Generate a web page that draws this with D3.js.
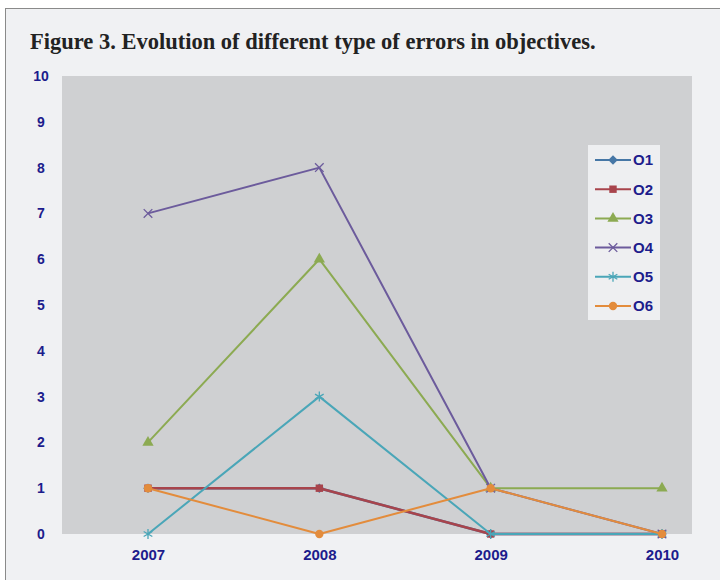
<!DOCTYPE html>
<html lang="en">
<head>
    <meta charset="UTF-8">
    <title>Figure 3</title>
    <script src="https://d3js.org/d3.v7.min.js"></script>
    <style>
        body { margin: 0; background: #fff; }
    </style>
</head>
<body>
    <svg></svg>
    <script>
        const w = 720;
        const h = 580;

        const years = ['2007', '2008', '2009', '2010'];
        const yTicks = [0, 1, 2, 3, 4, 5, 6, 7, 8, 9, 10];
        const names = ['O1', 'O2', 'O3', 'O4', 'O5', 'O6'];
        const o1 = [1, 1, 0, 0];
        const o2 = [1, 1, 0, 0];
        const o3 = [2, 6, 1, 1];
        const o4 = [7, 8, 1, 0];
        const o5 = [0, 3, 0, 0];
        const o6 = [1, 0, 1, 0];

        const colors = ['#4677a6', '#a8444c', '#8caa52', '#6c5b9c', '#4aa6b8', '#e38c3c'];
        // O1 is a square turned 45 degrees (Excel style diamond)
        const symbols = [d3.symbolSquare, d3.symbolSquare, d3.symbolTriangle, d3.symbolX, d3.symbolAsterisk, d3.symbolCircle];
        const rotations = [45, 0, 0, 0, 0, 0];
        const sizes = [45, 55, 55, 50, 70, 55];
        const stroked = [false, false, false, true, true, false];

        const series = [o1, o2, o3, o4, o5, o6].map((vals, i) => ({
            name: names[i],
            values: vals.map((v, j) => ({ year: years[j], value: v }))
        }));

        const svg = d3.select('svg')
            .attr('width', w)
            .attr('height', h);

        // outer frame
        svg.append('rect')
            .attr('x', 5.5).attr('y', 8.5)
            .attr('width', w + 10).attr('height', h + 10)
            .attr('fill', '#f0f1f3')
            .attr('stroke', '#8a8a8a');

        svg.append('text')
            .attr('x', 30).attr('y', 49)
            .attr('font-family', 'Liberation Serif, serif')
            .attr('font-weight', 'bold')
            .attr('font-size', 22.5)
            .attr('fill', '#222')
            .text('Figure 3. Evolution of different type of errors in objectives.');

        const plotL = 62, plotR = 692, plotT = 76, plotB = 534;

        const x = d3.scalePoint().domain(years).range([148, 662]);
        const y = d3.scaleLinear().domain([0, 10]).range([plotB, plotT]);

        svg.append('rect')
            .attr('x', plotL).attr('y', plotT)
            .attr('width', plotR - plotL).attr('height', plotB - plotT)
            .attr('fill', '#cfd0d2');

        const yAxis = svg.append('g')
            .attr('transform', `translate(${plotL}, 0)`)
            .call(d3.axisLeft(y).tickValues(yTicks).tickSize(0).tickFormat(d3.format('d')));
        yAxis.select('.domain').remove();
        yAxis.selectAll('text')
            .attr('x', -21)
            .attr('text-anchor', 'middle')
            .attr('font-family', 'Liberation Sans, Arial, sans-serif')
            .attr('font-weight', 'bold')
            .attr('font-size', 14)
            .attr('fill', '#1c1c8c');

        const xAxis = svg.append('g')
            .attr('transform', `translate(0, ${plotB})`)
            .call(d3.axisBottom(x).tickSize(0).tickPadding(15));
        xAxis.select('.domain').remove();
        xAxis.selectAll('text')
            .attr('font-family', 'Liberation Sans, Arial, sans-serif')
            .attr('font-weight', 'bold')
            .attr('font-size', 15)
            .attr('fill', '#1c1c8c');

        const line = d3.line()
            .x(d => x(d.year))
            .y(d => y(d.value));

        const marker = (i) => d3.symbol().type(symbols[i]).size(sizes[i]);

        series.forEach((s, i) => {
            const g = svg.append('g');
            g.append('path')
                .datum(s.values)
                .attr('fill', 'none')
                .attr('stroke', colors[i])
                .attr('stroke-width', i < 2 ? 2.5 : 2)
                .attr('stroke-linejoin', 'round')
                .attr('d', line);
            g.selectAll('path.pt')
                .data(s.values)
                .enter()
                .append('path')
                .attr('class', 'pt')
                .attr('transform', d => `translate(${x(d.year)}, ${y(d.value)}) rotate(${rotations[i]})`)
                .attr('d', marker(i))
                .attr('fill', stroked[i] ? 'none' : colors[i])
                .attr('stroke', stroked[i] ? colors[i] : 'none')
                .attr('stroke-width', 1.3);
        });

        // legend
        const legend = svg.append('g');
        legend.append('rect')
            .attr('x', 588).attr('y', 145)
            .attr('width', 72).attr('height', 175)
            .attr('fill', '#eeeff1');

        const item = legend.selectAll('g.item')
            .data(series)
            .enter()
            .append('g')
            .attr('class', 'item')
            .attr('transform', (d, i) => `translate(595, ${160 + i * 29.2})`);
        item.append('line')
            .attr('x1', 0).attr('x2', 36)
            .attr('stroke', (d, i) => colors[i])
            .attr('stroke-width', 2);
        item.append('path')
            .attr('transform', (d, i) => `translate(18, 0) rotate(${rotations[i]})`)
            .attr('d', (d, i) => marker(i)())
            .attr('fill', (d, i) => stroked[i] ? 'none' : colors[i])
            .attr('stroke', (d, i) => stroked[i] ? colors[i] : 'none')
            .attr('stroke-width', 1.3);
        item.append('text')
            .attr('x', 38).attr('dy', '0.36em')
            .attr('font-family', 'Liberation Sans, Arial, sans-serif')
            .attr('font-weight', 'bold')
            .attr('font-size', 15)
            .attr('fill', '#1c1c8c')
            .text(d => d.name);
    </script>
</body>
</html>
